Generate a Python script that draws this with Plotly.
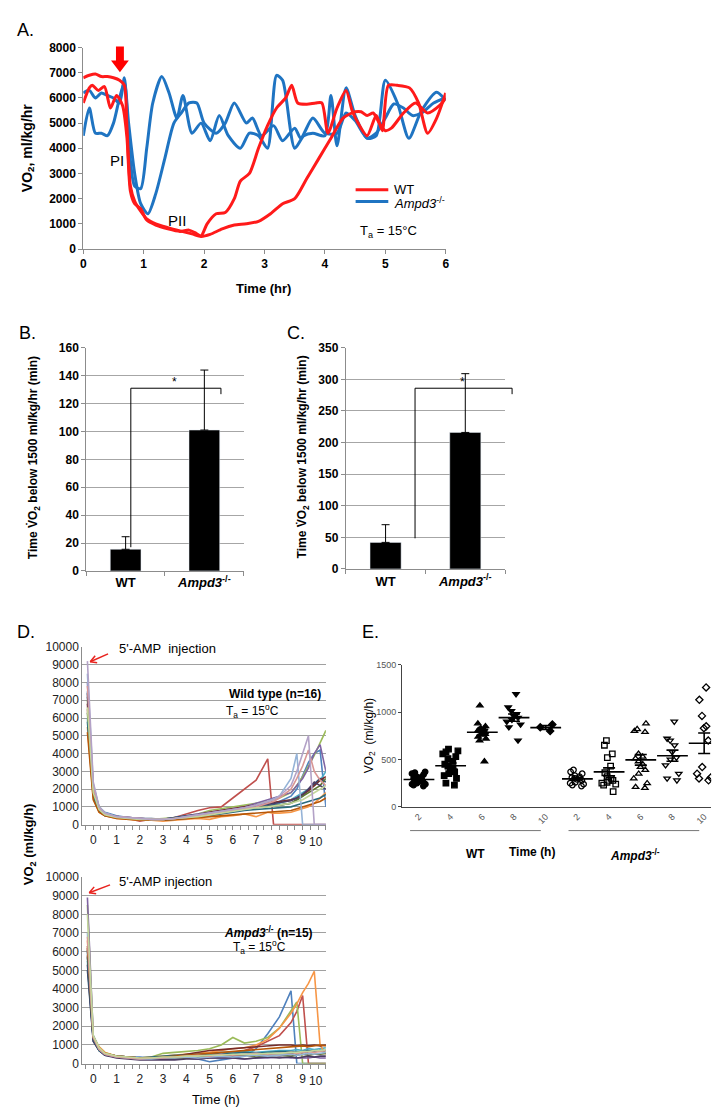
import numpy as np
import plotly.graph_objects as go

F = "Liberation Sans, Arial, sans-serif"

# ---------------- Panel A data ----------------
A_WT1_T = [0,0.1,0.2,0.3,0.4,0.5,0.6,0.68,0.72,0.78,0.85,0.95,1.05,1.2,1.4,1.6,1.8,1.95,2.1,2.3,2.5,2.7,2.9,3.1,3.3,3.5,3.7,3.9,4.1,4.3,4.5,4.6,4.7,4.8,4.9,5.0,5.1,5.3,5.5,5.7,5.9,6.0]
A_WT1 = [6800,6900,6950,6850,6850,6800,6700,6500,5000,2500,1900,1500,1200,1000,850,720,600,500,580,800,950,1000,1100,1400,1800,2000,2800,3600,4400,5200,5450,5450,5300,5400,5000,4700,4800,5400,5800,5400,5700,6000]
A_WT2_T = [0,0.1,0.15,0.25,0.35,0.45,0.55,0.65,0.72,0.78,0.85,0.95,1.05,1.2,1.4,1.6,1.75,1.85,1.95,2.05,2.2,2.35,2.5,2.6,2.75,2.9,3.05,3.2,3.35,3.45,3.55,3.7,3.85,3.95,4.05,4.2,4.35,4.45,4.55,4.7,4.85,4.95,5.05,5.2,5.4,5.55,5.7,5.85,6.0]
A_WT2 = [5800,6400,6500,6300,6450,5600,6100,5700,4500,2300,1800,1600,1150,950,800,700,750,650,520,1000,1400,1450,2000,2700,3000,4000,4900,5600,6000,6500,5800,5750,5800,5800,4600,5600,6300,5500,5000,4500,5300,4700,6500,6500,6400,5800,4600,5200,6200]
A_KO1_T = [0,0.1,0.2,0.3,0.4,0.5,0.6,0.68,0.76,0.85,0.95,1.05,1.15,1.3,1.42,1.55,1.65,1.8,1.95,2.1,2.25,2.4,2.6,2.75,2.9,3.05,3.2,3.3,3.5,3.65,3.8,4.0,4.1,4.2,4.35,4.5,4.7,4.85,5.0,5.2,5.39,5.6,5.85,6.0]
A_KO1 = [6200,6300,6000,6200,6100,6000,5800,6800,4000,2500,2400,4000,5800,6850,6200,5200,6100,4600,5000,4300,5300,4500,4000,4600,4500,4000,6900,6700,4000,4500,4600,4500,6100,4100,6400,5300,4400,4500,6700,5800,4400,5500,6230,5900]
A_KO2_T = [0,0.1,0.2,0.3,0.4,0.5,0.6,0.68,0.75,0.85,0.95,1.07,1.2,1.35,1.5,1.62,1.75,1.88,2.0,2.2,2.35,2.5,2.7,2.8,2.95,3.15,3.3,3.5,3.6,3.8,4.0,4.2,4.35,4.5,4.7,4.85,5.0,5.14,5.3,5.45,5.6,5.8,6.0]
A_KO2 = [4500,5600,4600,4600,4500,5000,6000,6600,5000,3000,1800,1400,2200,3600,5000,5400,5800,5800,5000,4600,5000,5800,5000,5200,4500,4900,4300,4800,4400,5200,4600,4600,5400,5100,4400,4600,5200,5760,5600,5300,5400,5800,6000]

# ---------------- Panels B, C data ----------------
BC_CATS = ["WT", "<i>Ampd3</i><sup>-/-</sup>"]
B_VALS = [15.5, 101]
B_ERR = [9, 43]
C_VALS = [42, 216]
C_ERR = [28, 93]

# ---------------- Panel D data ----------------
D_WT_T = [-0.25,0,0.25,0.5,1,1.5,2,2.5,3,3.5,4,4.5,5,5.5,6,6.5,7,7.5,7.75,8,8.5,8.75,9,9.25,9.5,9.75,10]
D_WT = [
    [7500,2000,1000,700,500,400,350,300,300,350,450,500,600,700,800,900,1000,1100,1150,1300,1600,2000,2800,3500,4000,4200,1000],
    [6500,1800,900,600,450,350,200,300,300,400,600,800,950,1000,1500,2000,2500,3700,0,0,0,0,0,0,0,0,0],
    [7000,2200,1000,650,450,350,300,300,350,400,500,600,800,900,1000,1100,1200,1300,1400,1500,1800,2200,2700,3300,3900,4600,5300],
    [8000,2000,900,600,450,400,350,300,300,400,500,600,700,800,900,1000,1200,1400,1500,1600,1800,2200,2600,3200,4000,4500,3000],
    [6000,1800,800,550,400,350,300,300,300,350,400,500,600,700,800,900,1000,1100,1150,1200,1400,1600,1800,2000,2200,2500,3000],
    [5500,1500,700,500,350,300,250,250,200,250,300,350,300,450,500,600,450,700,650,650,700,800,900,1000,1200,1500,1800],
    [7200,2100,900,600,450,400,350,350,300,400,500,550,650,750,850,900,1000,1050,1100,1100,1200,1400,1600,2000,2300,2600,2400],
    [6800,1900,850,600,400,350,300,300,300,350,450,550,700,800,900,1000,1100,1200,1250,1300,1400,1500,1700,1900,2200,2500,2700],
    [6300,1700,800,550,400,350,300,300,300,350,400,500,600,700,800,900,950,1000,1050,1100,1200,1400,1600,1800,2000,2200,2600],
    [7400,2000,900,600,450,400,350,300,300,350,450,550,650,750,850,950,1050,1150,1200,1250,1350,1500,1700,2000,2400,2200,2000],
    [5800,1600,750,500,400,350,300,250,250,300,350,450,500,600,700,800,850,900,900,950,1000,1100,1200,1300,1400,1500,1700],
    [5200,1400,700,500,350,300,250,250,250,300,350,400,450,500,550,600,650,700,700,750,800,900,1000,1100,1200,1300,1500],
    [8500,2300,1000,650,450,400,350,300,300,350,450,550,650,750,850,950,1100,1300,1450,1600,2600,4000,0,0,0,0,0],
    [7800,2100,950,600,450,400,350,300,300,350,400,500,600,700,800,900,1000,1200,1300,1500,2000,2600,3300,4200,3000,2500,2200],
    [6600,1800,850,550,400,350,300,300,300,350,400,450,550,650,750,850,950,1000,1050,1100,1200,1300,1400,1600,1800,2000,2200],
    [9200,2400,1000,650,450,400,350,300,300,350,450,550,650,750,850,950,1100,1300,1400,1600,2200,3000,4000,5000,0,0,0],
]
D_KO_T = [-0.25,0,0.25,0.5,1,1.5,2,2.5,3,3.5,4,4.5,5,5.5,6,6.5,7,7.5,8,8.5,8.75,9,9.25,9.5,9.75,10]
D_KO = [
    [6000,1300,800,550,400,350,350,300,300,300,300,250,100,200,300,400,800,1600,2500,3900,0,0,0,0,0,0],
    [6200,1400,800,550,400,350,300,300,250,300,350,400,450,500,600,700,900,1200,1500,2200,2800,3650,0,0,0,0],
    [8500,1500,900,600,400,350,300,350,550,600,650,700,800,1000,1400,1100,1200,1400,1900,2800,3300,0,0,0,0,0],
    [8900,1500,800,500,350,300,300,250,250,300,300,250,300,300,300,250,300,300,350,300,300,300,300,350,300,300],
    [5500,1300,700,500,400,350,300,300,350,400,450,500,550,600,600,650,600,650,700,700,750,700,800,750,800,850],
    [6600,1400,900,600,400,350,300,350,400,450,500,550,600,700,800,850,1000,1300,1900,2700,3200,3800,4300,4950,1000,500],
    [5000,1200,700,450,350,300,250,250,300,300,350,350,400,400,450,450,500,500,550,550,600,600,650,650,700,700],
    [5800,1300,750,500,400,350,300,300,350,400,500,600,700,750,800,850,900,950,1000,1000,950,1000,950,1000,950,1000],
    [6100,1400,750,500,350,300,300,250,250,300,300,350,350,400,400,450,350,400,450,400,450,500,450,500,500,550],
    [5300,1200,700,450,300,250,200,200,200,200,250,250,300,300,300,250,300,350,300,350,300,350,400,350,400,400],
    [5700,1300,700,500,400,350,300,350,400,450,450,500,500,550,550,600,550,600,650,650,600,650,700,650,700,700],
    [6300,1400,800,550,400,350,300,300,350,400,450,500,550,600,650,700,750,800,850,900,900,950,900,950,1000,950],
    [7000,1500,800,500,350,300,250,250,300,300,350,300,350,400,350,400,450,400,450,500,450,500,550,500,550,600],
    [6800,1400,750,500,350,300,250,300,300,350,400,450,400,500,450,500,550,500,550,600,550,600,650,600,650,700],
    [8000,1500,850,550,400,350,300,300,350,350,400,400,450,450,500,500,500,550,550,600,600,650,650,700,700,750],
]
D_COLORS = ["#4F81BD", "#C0504D", "#9BBB59", "#8064A2", "#4BACC6", "#F79646",
            "#2C4D75", "#772C2A", "#5F7530", "#4D3B62", "#276A7C", "#B65708",
            "#95B3D7", "#D99694", "#C3D69B", "#B3A2C7"]
D_YTICKS = [0, 1000, 2000, 3000, 4000, 5000, 6000, 7000, 8000, 9000, 10000]

# ---------------- Panel E data ----------------
E_LABELS = ["2", "4", "6", "8", "10", "2", "4", "6", "8", "10"]
E_WT2 = [370,360,350,340,320,310,300,290,280,270,260,250,240,240,230,220]
E_WT4 = [610,590,580,560,530,510,480,450,430,410,390,370,350,330,300,250,230]
E_WT6 = [1070,880,850,830,820,810,800,790,780,770,760,740,720,700,480]
E_WT8 = [1190,1050,1010,980,960,940,920,900,870,840,700]
E_WT10 = [870,840,800]
E_KO2 = [390,370,350,330,320,310,300,300,290,280,260,250,240,230,220]
E_KO4 = [700,650,560,520,430,360,320,300,280,280,260,250,240,230,160]
E_KO6 = [880,820,800,790,560,530,510,480,450,420,390,350,300,250,210,200]
E_KO8 = [900,720,700,650,580,520,500,440,350,300,280]
E_KO10 = [1260,1130,960,850,830,700,420,350,310,300,280]
E_GROUPS = [E_WT2, E_WT4, E_WT6, E_WT8, E_WT10, E_KO2, E_KO4, E_KO6, E_KO8, E_KO10]
E_SYMBOLS = ["circle", "square", "triangle-up", "triangle-down", "diamond",
             "circle-open", "square-open", "triangle-up-open", "triangle-down-open", "diamond-open"]


def X(px):
    return px / 720.0


def Y(py):
    return 1 - py / 1110.0


fig = go.Figure()

# ----- Panel A traces -----
RED = "#FF1A1A"
BLUE = "#1F74C2"
for t, v, c in [(A_KO1_T, A_KO1, BLUE), (A_KO2_T, A_KO2, BLUE),
                (A_WT1_T, A_WT1, RED), (A_WT2_T, A_WT2, RED)]:
    fig.add_trace(go.Scatter(x=t, y=v, mode="lines", xaxis="x", yaxis="y",
                             line=dict(color=c, width=3, shape="spline", smoothing=0.7),
                             hoverinfo="skip"))

# ----- Panel B, C bars -----
fig.add_trace(go.Bar(x=BC_CATS, y=B_VALS, xaxis="x2", yaxis="y2", width=0.39,
                     marker=dict(color="black"),
                     error_y=dict(type="data", symmetric=False, array=B_ERR, arrayminus=[0, 0],
                                  color="black", thickness=1, width=4)))
fig.add_trace(go.Bar(x=BC_CATS, y=C_VALS, xaxis="x3", yaxis="y3", width=0.39,
                     marker=dict(color="black"),
                     error_y=dict(type="data", symmetric=False, array=C_ERR, arrayminus=[0, 0],
                                  color="black", thickness=1, width=4)))

# ----- Panel D lines -----
for i, v in enumerate(D_WT):
    fig.add_trace(go.Scatter(x=D_WT_T, y=v, mode="lines", xaxis="x4", yaxis="y4",
                             line=dict(color=D_COLORS[i % 16], width=1.6), hoverinfo="skip"))
for i, v in enumerate(D_KO):
    fig.add_trace(go.Scatter(x=D_KO_T, y=v, mode="lines", xaxis="x5", yaxis="y5",
                             line=dict(color=D_COLORS[i % 16], width=1.6), hoverinfo="skip"))

# ----- Panel E scatter -----
for i, g in enumerate(E_GROUPS):
    fig.add_trace(go.Box(x=[i] * len(g), y=g, xaxis="x6", yaxis="y6",
                         boxpoints="all", jitter=0.9, pointpos=0, width=0.6,
                         fillcolor="rgba(0,0,0,0)", line=dict(color="rgba(0,0,0,0)", width=0),
                         marker=dict(symbol=E_SYMBOLS[i], size=5.5, color="black",
                                     line=dict(color="black", width=1.3)),
                         hoverinfo="skip"))
means = [float(np.mean(g)) for g in E_GROUPS]
sems = [float(np.std(g, ddof=1) / np.sqrt(len(g))) for g in E_GROUPS]
fig.add_trace(go.Scatter(x=list(range(10)), y=means, mode="markers", xaxis="x6", yaxis="y6",
                         marker=dict(symbol="line-ew", size=22, color="black",
                                     line=dict(color="black", width=1.6)),
                         error_y=dict(type="data", array=sems, color="black", thickness=1.6, width=6),
                         hoverinfo="skip"))

GRAY = "#8C8C8C"
bold12 = dict(family=F, size=12, color="black", weight="bold")

layout = dict(
    width=720, height=1110, margin=dict(l=0, r=0, t=0, b=0),
    paper_bgcolor="white", plot_bgcolor="white", showlegend=False,
    boxmode="overlay", font=dict(family=F, color="black"),
    # A
    xaxis=dict(domain=[X(73), X(439)], range=[0, 6], anchor="y", dtick=1, showgrid=False,
               zeroline=False, showline=True, linecolor=GRAY, ticks="outside", ticklen=4,
               tickcolor=GRAY, tickfont=bold12),
    yaxis=dict(domain=[Y(237), Y(33)], range=[0, 8000], anchor="x", dtick=1000, showgrid=False,
               zeroline=False, showline=True, linecolor=GRAY, ticks="outside", ticklen=4,
               tickcolor=GRAY, tickfont=bold12),
    # B
    xaxis2=dict(domain=[X(76), X(235)], anchor="y2", type="category", range=[-0.5, 1.5],
                showline=True, linecolor=GRAY, ticks="outside", tickson="boundaries", ticklen=4,
                tickcolor=GRAY, tickfont=dict(family=F, size=13, color="black", weight="bold")),
    yaxis2=dict(domain=[Y(563), Y(337)], anchor="x2", range=[0, 160], dtick=20, showgrid=True,
                gridcolor="#A6A6A6", zeroline=False, showline=True, linecolor=GRAY,
                ticks="outside", ticklen=4, tickcolor=GRAY, tickfont=bold12),
    # C
    xaxis3=dict(domain=[X(338), X(499)], anchor="y3", type="category", range=[-0.5, 1.5],
                showline=True, linecolor=GRAY, ticks="outside", tickson="boundaries", ticklen=4,
                tickcolor=GRAY, tickfont=dict(family=F, size=13, color="black", weight="bold")),
    yaxis3=dict(domain=[Y(561), Y(337)], anchor="x3", range=[0, 350], dtick=50, showgrid=True,
                gridcolor="#A6A6A6", zeroline=False, showline=True, linecolor=GRAY,
                ticks="outside", ticklen=4, tickcolor=GRAY, tickfont=bold12),
)
for xa, ya, d0, d1 in [("xaxis4", "yaxis4", 820, 640), ("xaxis5", "yaxis5", 1062, 873)]:
    n = xa[-1]
    layout[xa] = dict(domain=[X(72), X(318)], anchor="y" + n, range=[-0.47, 10.0],
                      tickvals=list(range(10)), showgrid=False, zeroline=False, showline=True,
                      linecolor=GRAY, ticks="outside", ticklen=4, tickcolor=GRAY,
                      minor=dict(dtick=1 / 3, ticks="outside", ticklen=4, tickcolor=GRAY, showgrid=False),
                      tickfont=dict(family=F, size=12, color="#222"))
    layout[ya] = dict(domain=[Y(d0), Y(d1)], anchor="x" + n, range=[0, 10000],
                      tickvals=D_YTICKS, ticktext=[str(v) for v in D_YTICKS],
                      showgrid=True, gridcolor="#A0A0A0", zeroline=False, showline=True,
                      linecolor=GRAY, ticks="", tickfont=dict(family=F, size=12, color="#222"))
layout["xaxis6"] = dict(domain=[X(395), X(707)], anchor="y6", range=[-0.53, 9.22],
                        tickvals=list(range(10)), ticktext=E_LABELS, tickangle=-45,
                        showgrid=False, zeroline=False, showline=True, linecolor="#444",
                        linewidth=1.3, ticks="", tickfont=dict(family=F, size=9, color="#555"))
layout["yaxis6"] = dict(domain=[Y(802), Y(658)], anchor="x6", range=[0, 1500],
                        tickvals=[0, 500, 1000, 1500], showgrid=False, zeroline=False,
                        showline=True, linecolor="#444", linewidth=1.3, ticks="outside",
                        ticklen=3, tickcolor="#444", tickfont=dict(family=F, size=9, color="#555"))
fig.update_layout(**layout)


def ann(x, y, text, size=12, xanchor="center", yanchor="middle", angle=0, color="black"):
    fig.add_annotation(x=X(x), y=Y(y), xref="paper", yref="paper", text=text, showarrow=False,
                       xanchor=xanchor, yanchor=yanchor, textangle=angle,
                       font=dict(family=F, size=size, color=color))


def line(x0, y0, x1, y1, color="black", width=1):
    fig.add_shape(type="line", xref="paper", yref="paper", x0=X(x0), y0=Y(y0), x1=X(x1), y1=Y(y1),
                  line=dict(color=color, width=width))


# Panel A decorations
ann(4, 15, "A.", 18, xanchor="left")
ann(17, 135, "<b>VO<sub>2</sub>, ml/kg/hr</b>", 14, angle=-90)
ann(255, 277, "<b>Time (hr)</b>", 13)
ann(107, 147, "PI", 15)
ann(168, 208, "PII", 15)
line(348, 177, 381, 177, RED, 3)
line(348, 189, 381, 189, BLUE, 3)
ann(385, 177, "WT", 13, xanchor="left")
ann(385, 190, "<i>Ampd3</i><sup>-/-</sup>", 13, xanchor="left")
ann(350, 219, "T<sub>a</sub> = 15°C", 13, xanchor="left")
arrow_path = "M {a},{b} L {c},{b} L {c},{d} L {e},{d} L {f},{g} L {h},{d} L {i},{d} Z".format(
    a=X(106), b=Y(32), c=X(114), d=Y(46), e=X(119), f=X(110), g=Y(58), h=X(101), i=X(106))
fig.add_shape(type="path", xref="paper", yref="paper", path=arrow_path,
              fillcolor="#FF0000", line=dict(color="#FF0000", width=0))

# Panel B decorations
ann(6, 322, "B.", 18, xanchor="left")
ann(23, 448, "<b>Time V̇O<sub>2</sub> below 1500 ml/kg/hr (min)</b>", 12, angle=-90)
line(121, 378, 212, 378)
line(121, 378, 121, 539)
line(212, 378, 212, 384)
ann(165, 372, "*", 12)

# Panel C decorations
ann(277, 322, "C.", 18, xanchor="left")
ann(295, 448, "<b>Time V̇O<sub>2</sub> below 1500 ml/kg/hr (min)</b>", 12, angle=-90)
line(408, 378, 506, 378)
line(408, 378, 408, 530)
line(506, 378, 506, 384)
ann(456, 372, "*", 12)

# Panel D decorations
ann(4, 625, "D.", 18, xanchor="left")
ann(19, 840, "<b>VO<sub>2</sub> (ml/kg/h)</b>", 13, angle=-90)
ann(107, 642, "5'-AMP  injection", 13, xanchor="left")
line(98, 647, 80, 655, "#E8231E", 1.5)
line(80, 655, 85, 649, "#E8231E", 1.5)
line(80, 655, 87, 656, "#E8231E", 1.5)
ann(218, 688, "<b>Wild type (n=16)</b>", 12, xanchor="left")
ann(215, 705, "T<sub>a</sub> = 15<sup>o</sup>C", 12, xanchor="left")
ann(308, 838, "10", 12, color="#222")
ann(107, 878, "5'-AMP injection", 13, xanchor="left")
line(100, 881, 79, 889, "#E8231E", 1.5)
line(79, 889, 84, 883, "#E8231E", 1.5)
line(79, 889, 86, 890, "#E8231E", 1.5)
ann(213, 929, "<b><i>Ampd3</i><sup>-/-</sup> (n=15)</b>", 12, xanchor="left")
ann(222, 944, "T<sub>a</sub> = 15<sup>o</sup>C", 12, xanchor="left")
ann(308, 1080, "10", 12, color="#222")
ann(207, 1098, "Time (h)", 13)

# Panel E decorations
ann(352, 625, "E.", 18, xanchor="left")
ann(362, 730, "VO<sub>2</sub>  (ml/kg/h)", 12, angle=-90)
line(403, 826, 535, 826, "#777", 1)
line(563, 826, 695, 826, "#777", 1)
ann(469, 850, "<b>WT</b>", 12)
ann(526, 848, "<b>Time (h)</b>", 12)
ann(630, 851, "<b><i>Ampd3</i><sup>-/-</sup></b>", 12)

fig.write_html("out.html")
